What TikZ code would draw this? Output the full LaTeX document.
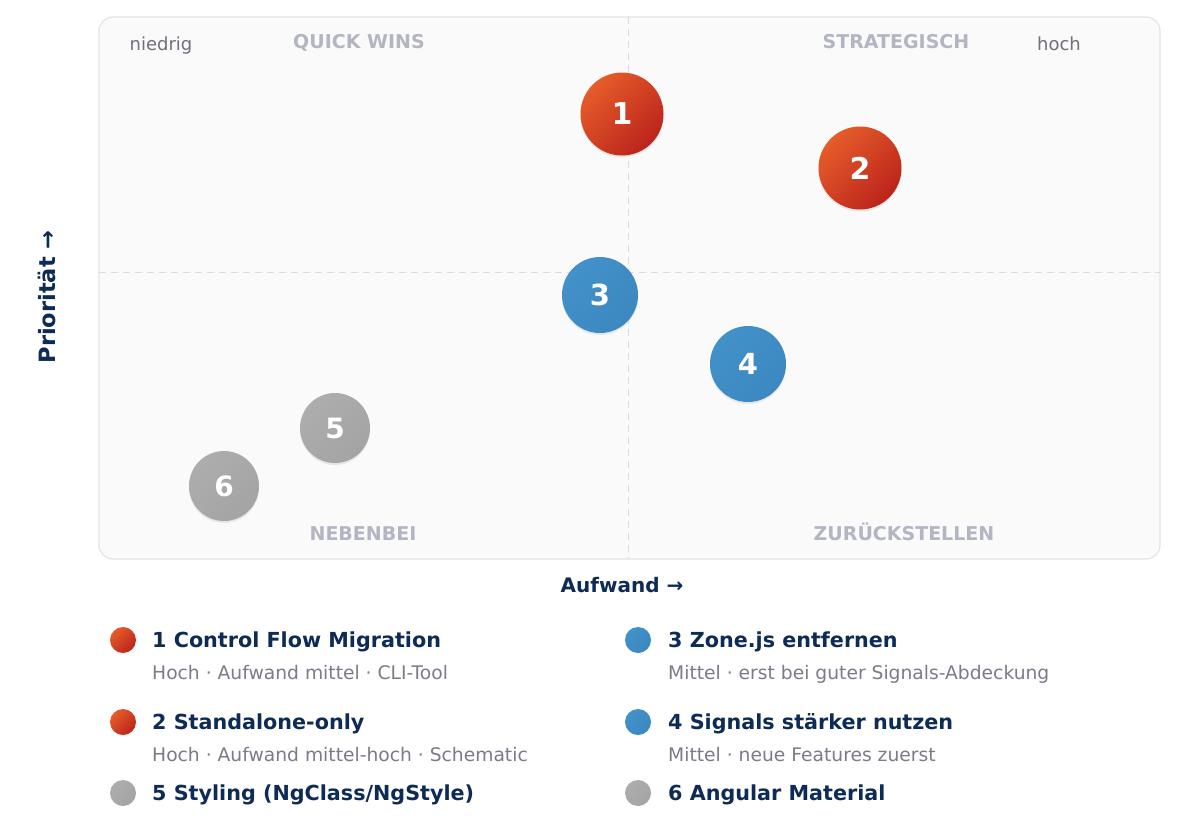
\documentclass[tikz,border=0pt]{standalone}
\usepackage{fontspec}
\setmainfont{DejaVu Sans}
\usetikzlibrary{shadows}

\definecolor{navy}{HTML}{0D2B55}
\definecolor{quadgray}{HTML}{B3B5C3}
\definecolor{endgray}{HTML}{6E707A}
\definecolor{subgray}{HTML}{7A7C87}
\definecolor{gridgray}{HTML}{D9DAE2}
\definecolor{framegray}{HTML}{E4E4E6}
\definecolor{panel}{HTML}{FAFAFA}
\definecolor{redA}{HTML}{E55D2A}
\definecolor{redB}{HTML}{BC231C}
\definecolor{blueA}{HTML}{4391C9}
\definecolor{blueB}{HTML}{3C88C0}
\definecolor{grayA}{HTML}{ADADAD}
\definecolor{grayB}{HTML}{A4A4A4}

\begin{document}
\begin{tikzpicture}[x=1pt, y=-1pt,
    frame/.style={rectangle, draw=framegray, line width=1.2pt, fill=panel, rounded corners=14pt, minimum width=1061pt, minimum height=542pt},
    grid/.style={draw=gridgray, line width=1pt, dash pattern=on 7pt off 5pt},
    quad/.style={font=\bfseries\fontsize{19}{19}\selectfont, text=quadgray, inner sep=0pt},
    ends/.style={font=\fontsize{18}{18}\selectfont, text=endgray, inner sep=0pt},
    axis/.style={font=\bfseries\fontsize{20}{20}\selectfont, text=navy, inner sep=0pt},
    bubble/.style={circle, minimum size=#1, inner sep=0pt, text=white, drop shadow={opacity=0.15, shadow xshift=0pt, shadow yshift=-2pt}},
    hot/.style={top color=redA, bottom color=redB, shading angle=45},
    mid/.style={top color=blueA, bottom color=blueB, shading angle=45},
    low/.style={top color=grayA, bottom color=grayB, shading angle=45},
    dot/.style={circle, minimum size=26pt, inner sep=0pt},
    ltitle/.style={anchor=base west, font=\bfseries\fontsize{20.7}{20.7}\selectfont, text=navy, inner sep=0pt},
    lsub/.style={anchor=base west, font=\fontsize{18.7}{18.7}\selectfont, text=subgray, inner sep=0pt}
]
\fill[white] (0,0) rectangle (1200,830);
\useasboundingbox (0,0) rectangle (1200,830);

% Panel and quadrant lines
\node[frame] (plot) at (629.5,288) {};
\draw[grid] (628,17) -- (628,559);
\draw[grid] (99,272) -- (1160,272);

% Quadrant labels
\node[ends, anchor=base] (lo) at (161,50.5) {niedrig};
\node[ends, anchor=base] (hi) at (1059,50.5) {hoch};
\node[quad, anchor=base] (qw) at (359,48) {QUICK WINS};
\node[quad, anchor=base] (st) at (896,48) {STRATEGISCH};
\node[quad, anchor=base] (nb) at (363,540) {NEBENBEI};
\node[quad, anchor=base] (zs) at (904,540) {ZURÜCKSTELLEN};

% Axis titles
\node[axis, rotate=90, font=\bfseries\fontsize{22.5}{22.5}\selectfont] (ylab) at (47,297) {Priorität →};
\node[axis, anchor=base] (xlab) at (622,592) {Aufwand →};

% Bubbles
\node[bubble=83pt, hot, font=\bfseries\fontsize{30}{30}\selectfont] (b1) at (622,114) {1};
\node[bubble=83pt, hot, font=\bfseries\fontsize{30}{30}\selectfont] (b2) at (860,168) {2};
\node[bubble=76pt, mid, font=\bfseries\fontsize{29}{29}\selectfont] (b3) at (600,295) {3};
\node[bubble=76pt, mid, font=\bfseries\fontsize{29}{29}\selectfont] (b4) at (748,364) {4};
\node[bubble=70pt, low, font=\bfseries\fontsize{28}{28}\selectfont] (b5) at (335,428) {5};
\node[bubble=70pt, low, font=\bfseries\fontsize{28}{28}\selectfont] (b6) at (224,486) {6};

% Legend
\node[dot, hot] (d1) at (123,640) {};
\node[ltitle] (t1) at (152,647) {1 Control Flow Migration};
\node[lsub] (s1) at (152,679) {Hoch · Aufwand mittel · CLI-Tool};
\node[dot, hot] (d2) at (123,722) {};
\node[ltitle] (t2) at (152,729) {2 Standalone-only};
\node[lsub] (s2) at (152,761) {Hoch · Aufwand mittel-hoch · Schematic};
\node[dot, low] (d5) at (123,793) {};
\node[ltitle] (t5) at (152,800) {5 Styling (NgClass/NgStyle)};

\node[dot, mid] (d3) at (638,640) {};
\node[ltitle] (t3) at (668,647) {3 Zone.js entfernen};
\node[lsub] (s3) at (668,679) {Mittel · erst bei guter Signals-Abdeckung};
\node[dot, mid] (d4) at (638,722) {};
\node[ltitle] (t4) at (668,729) {4 Signals stärker nutzen};
\node[lsub] (s4) at (668,761) {Mittel · neue Features zuerst};
\node[dot, low] (d6) at (638,793) {};
\node[ltitle] (t6) at (668,800) {6 Angular Material};

\end{tikzpicture}
\end{document}
